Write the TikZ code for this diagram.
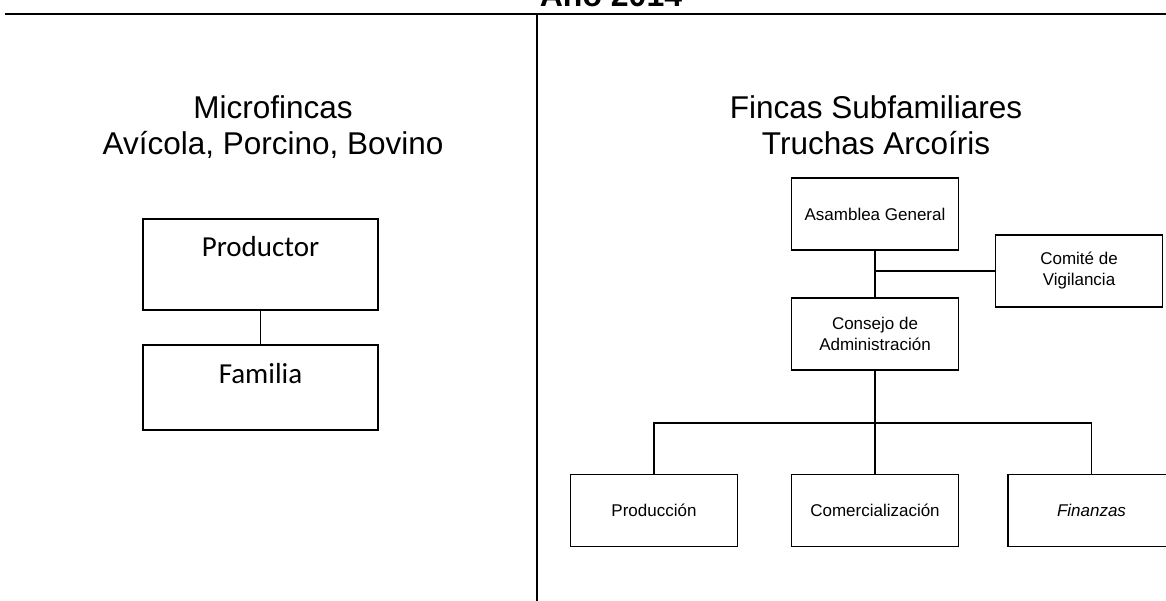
\documentclass[tikz,border=0pt]{standalone}
\usepackage{fontspec}
\setmainfont{Liberation Sans}
\newfontfamily\calibri{Carlito}
\begin{document}
\begin{tikzpicture}[x=1pt,y=-1pt,
    caja/.style={draw,line width=1.8pt,minimum width=167pt,minimum height=72pt,inner sep=0pt,align=center,font=\fontsize{17}{21}\selectfont},
    cajagrande/.style={draw,line width=1.3pt,minimum width=235pt,inner sep=0pt,text height=24pt,font=\calibri\fontsize{29}{34}\selectfont},
    titulo/.style={align=center,anchor=base,font=\fontsize{31.5}{36}\selectfont}]
    \useasboundingbox (0,0) rectangle (1166,601);
    \node[anchor=base,font=\bfseries\fontsize{32}{36}\selectfont] (anio) at (611,7) {Año 2014};
    \draw[line width=2pt] (5,14) -- (1166,14);
    \draw[line width=1.2pt] (537,14) -- (537,601);
    % lado izquierdo
    \node[titulo] (micro) at (273,155) {Microfincas\\Avícola, Porcino, Bovino};
    \node[cajagrande,minimum height=91pt,text depth=39pt] (prod) at (260.5,264.5) {Productor};
    \node[cajagrande,minimum height=85pt,text depth=33pt] (fam) at (260.5,387.5) {Familia};
    \draw[line width=1.3pt] (prod) -- (fam);
    % lado derecho
    \node[titulo] (fincas) at (876,155) {Fincas Subfamiliares\\Truchas Arcoíris};
    \node[caja] (asam) at (875,214) {Asamblea General};
    \node[caja] (comite) at (1079,271) {Comité de\\Vigilancia};
    \node[caja] (consejo) at (875,334) {Consejo de\\Administración};
    \node[caja] (prodn) at (654,510.5) {Producción};
    \node[caja] (comer) at (875,510.5) {Comercialización};
    \node[caja,font=\fontsize{17}{21}\selectfont\itshape] (finan) at (1091.5,510.5) {Finanzas};
    \coordinate (bus) at (875,423);
    \draw[line width=1.8pt] (asam) -- (consejo);
    \draw[line width=1.8pt] (comite.west) -- (comite.west -| asam.south);
    \draw[line width=1.8pt] (consejo) -- (comer);
    \draw[line width=1.8pt] (prodn.north) |- (bus) -| (finan.north);
\end{tikzpicture}
\end{document}
